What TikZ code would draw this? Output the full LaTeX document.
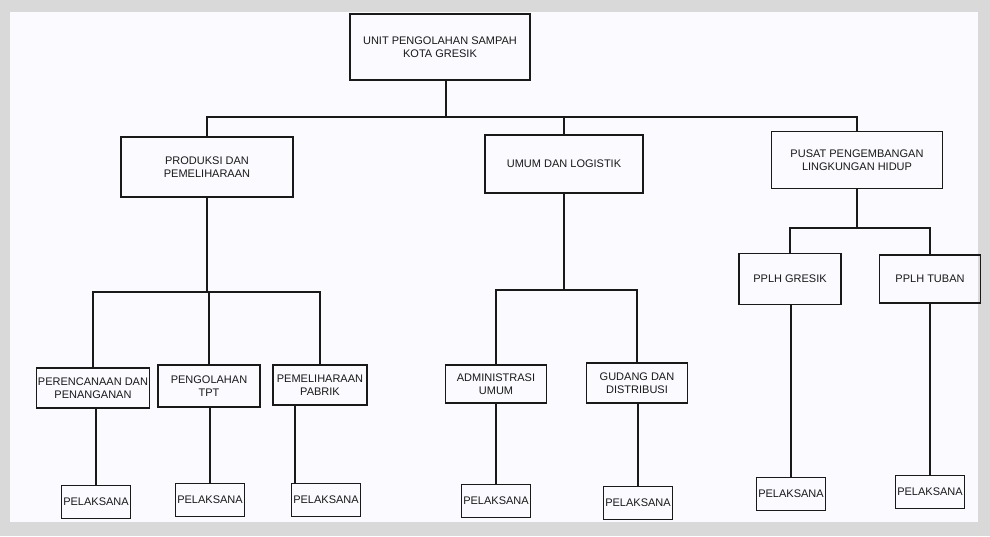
\documentclass[tikz,border=0pt]{standalone}
\usepackage{fontspec}
\setmainfont{Liberation Sans}
\usepackage{tikz}
\tikzset{%
  org/.style = {
    x=1pt, y=-1pt,
    every node/.style = {shape=rectangle, draw=black!90, line width=1.1pt,
      align=center, inner sep=1.5pt, text=black!90,
      font=\fontsize{11}{13.5}\selectfont},
    link/.style = {draw=black!90, line width=1.1pt}
  },
  kotak/.style = {minimum width=#1},
  pelaksana/.style = {minimum width=68pt, minimum height=33pt}
}

\begin{document}
\begin{tikzpicture}[org]
  % kertas hasil scan
  \fill[gray!30] (0,0) rectangle (990,536);
  \fill[blue!2!white] (10,12) rectangle (978,522);
  \useasboundingbox (0,0) rectangle (990,536);

  \node[kotak=180pt, minimum height=66pt] (unit) at (440,47)
    {UNIT PENGOLAHAN SAMPAH\\KOTA GRESIK};

  \node[kotak=172pt, minimum height=60pt] (prod) at (207,167)
    {PRODUKSI DAN\\PEMELIHARAAN};
  \node[kotak=158pt, minimum height=58pt] (umum) at (564,164)
    {UMUM DAN LOGISTIK};
  \node[kotak=171pt, minimum height=57pt] (pusat) at (857,160)
    {PUSAT PENGEMBANGAN\\LINGKUNGAN HIDUP};

  \node[kotak=102pt, minimum height=40pt] (renc) at (93,388)
    {PERENCANAAN DAN\\PENANGANAN};
  \node[kotak=102pt, minimum height=42pt] (tpt) at (209,386)
    {PENGOLAHAN\\TPT};
  \node[kotak=94pt, minimum height=40pt] (pabrik) at (320,385)
    {PEMELIHARAAN\\PABRIK};
  \node[kotak=101pt, minimum height=38pt] (admin) at (496,384)
    {ADMINISTRASI\\UMUM};
  \node[kotak=101pt, minimum height=40pt] (gudang) at (637,383)
    {GUDANG DAN\\DISTRIBUSI};
  \node[kotak=102pt, minimum height=51pt] (gresik) at (790,279)
    {PPLH GRESIK};
  \node[kotak=101pt, minimum height=48pt] (tuban) at (930,279)
    {PPLH TUBAN};

  \node[pelaksana] (p1) at (96,502) {PELAKSANA};
  \node[pelaksana] (p2) at (210,500) {PELAKSANA};
  \node[pelaksana] (p3) at (326,500) {PELAKSANA};
  \node[pelaksana] (p4) at (496,501) {PELAKSANA};
  \node[pelaksana] (p5) at (638,503) {PELAKSANA};
  \node[pelaksana] (p6) at (791,494) {PELAKSANA};
  \node[pelaksana] (p7) at (930,492) {PELAKSANA};

  \coordinate (bus1) at (0,117);
  \coordinate (bus2) at (0,292);
  \coordinate (bus3) at (0,290);
  \coordinate (bus4) at (0,228);

  % tingkat pertama
  \path[link] ([xshift=6pt]unit.south) -- ([xshift=6pt]unit.south |- bus1);
  \path[link] (prod.north) |- (pusat.north |- bus1) -- (pusat.north);
  \path[link] (umum.north) -- (umum.north |- bus1);

  % produksi dan pemeliharaan
  \path[link] (prod.south) -- (prod.south |- bus2);
  \path[link] (renc.north) |- (pabrik.north |- bus2) -- (pabrik.north);
  \path[link] (tpt.north) -- (tpt.north |- bus2);

  % umum dan logistik
  \path[link] (umum.south) -- (umum.south |- bus3);
  \path[link] (admin.north) |- (gudang.north |- bus3) -- (gudang.north);

  % pusat pengembangan
  \path[link] (pusat.south) -- (pusat.south |- bus4);
  \path[link] (gresik.north) |- (tuban.north |- bus4) -- (tuban.north);

  % pelaksana
  \path[link] (p1.north) -- (p1.north |- renc.south);
  \path[link] (p2.north) -- (p2.north |- tpt.south);
  \path[link] ([xshift=-31pt]p3.north) -- ([xshift=-31pt]p3.north |- pabrik.south);
  \path[link] (p4.north) -- (p4.north |- admin.south);
  \path[link] (p5.north) -- (p5.north |- gudang.south);
  \path[link] (p6.north) -- (p6.north |- gresik.south);
  \path[link] (p7.north) -- (p7.north |- tuban.south);
\end{tikzpicture}
\end{document}
